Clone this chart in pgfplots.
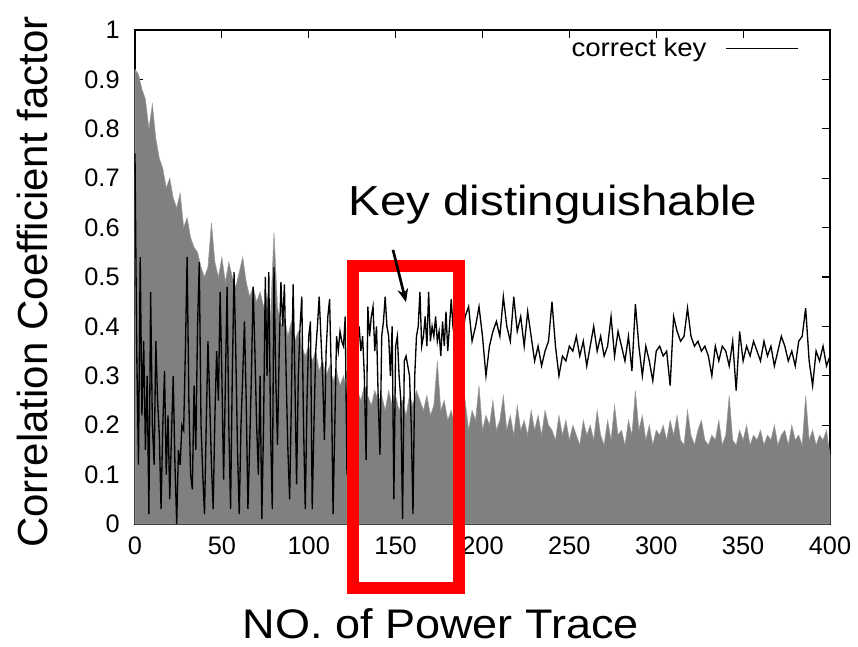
\documentclass[border=0pt]{standalone}
\usepackage{pgfplots}
\pgfplotsset{compat=1.18}
\usepackage{fontspec}
\setmainfont{Liberation Sans}
\newfontfamily\widefont[FakeStretch=1.09]{Liberation Sans}
\newfontfamily\widerfont[FakeStretch=1.13]{Liberation Sans}
\usetikzlibrary{arrows.meta}
\definecolor{area}{RGB}{128,128,128}
\definecolor{areaedge}{RGB}{155,155,155}
\begin{document}
\begin{tikzpicture}
\useasboundingbox (-101.25pt,-92.25pt) rectangle (542.25pt,393pt);
\begin{axis}[
  at={(0,0)}, anchor=south west,
  scale only axis, width=521.25pt, height=370.5pt,
  xmin=0, xmax=400, ymin=0, ymax=1,
  xtick={0,50,100,150,200,250,300,350,400},
  ytick={0,0.1,0.2,0.3,0.4,0.5,0.6,0.7,0.8,0.9,1},
  yticklabels={0,0.1,0.2,0.3,0.4,0.5,0.6,0.7,0.8,0.9,1},
  tick align=inside, major tick length=6pt,
  tick style={black, line width=0.8pt},
  axis line style={line width=1pt},
  /pgf/number format/assume math mode=true,
  tick label style={font=\fontsize{19}{22}\selectfont},
  xticklabel style={yshift=-6pt},
  yticklabel style={xshift=-8pt},
  clip=false,
  xlabel={NO. of Power Trace},
  ylabel={Correlation Coefficient factor},
  ylabel style={font=\fontsize{31.5}{36}\selectfont, at={(axis description cs:-0.148,0.49)}, anchor=center},
  xlabel style={font=\widefont\fontsize{31}{34}\selectfont, inner sep=0pt, at={(axis description cs:0.44,-0.202)}, anchor=center},
  legend style={at={(0.955,0.99)}, anchor=north east, draw=none, fill=none,
    font=\widefont\fontsize{19}{22}\selectfont, inner sep=0pt},
  legend plot pos=right,
  legend image code/.code={\path (0pt,0pt); \draw[black, line width=0.8pt] (12pt,0pt) -- (66pt,0pt);},
]
\addplot[fill=area, draw=areaedge, line width=0.4pt, forget plot] coordinates {
(0,0.92)(2,0.91)(4,0.88)(6,0.86)(8,0.80)(10,0.85)(12,0.78)(14,0.74)(16,0.72)(18,0.68)
(20,0.70)(22,0.66)(24,0.64)(26,0.67)(28,0.60)(30,0.62)(32,0.58)(34,0.56)(36,0.55)(38,0.52)
(40,0.50)(42,0.52)(44,0.61)(46,0.53)(48,0.50)(50,0.54)(52,0.49)(54,0.53)(56,0.50)(58,0.48)
(60,0.51)(62,0.54)(64,0.49)(66,0.46)(68,0.48)(70,0.45)(72,0.47)(74,0.44)(76,0.46)(78,0.42)
(80,0.59)(82,0.44)(84,0.40)(86,0.42)(88,0.38)(90,0.41)(92,0.37)(94,0.39)(96,0.36)(98,0.34)
(100,0.36)(102,0.33)(104,0.35)(106,0.31)(108,0.33)(110,0.30)(112,0.32)(114,0.29)(116,0.31)(118,0.28)
(120,0.30)(122,0.27)(124,0.29)(126,0.26)(128,0.27)(130,0.25)(132,0.28)(134,0.26)(136,0.24)(138,0.27)
(140,0.25)(142,0.26)(144,0.23)(146,0.27)(148,0.24)(150,0.26)(152,0.23)(154,0.25)(156,0.22)(158,0.26)
(160,0.24)(162,0.27)(164,0.25)(166,0.23)(168,0.26)(170,0.22)(172,0.24)(174,0.33)(176,0.23)(178,0.25)
(180,0.21)(182,0.23)(184,0.20)(186,0.26)(188,0.20)(190,0.25)(192,0.19)(194,0.23)(196,0.21)(198,0.28)
(200,0.19)(202,0.22)(204,0.20)(206,0.25)(208,0.19)(210,0.21)(212,0.26)(214,0.19)(216,0.22)(218,0.18)
(220,0.24)(222,0.19)(224,0.21)(226,0.18)(228,0.23)(230,0.19)(232,0.22)(234,0.18)(236,0.23)(238,0.20)
(240,0.19)(242,0.17)(244,0.22)(246,0.18)(248,0.21)(250,0.17)(252,0.20)(254,0.18)(256,0.16)(258,0.21)
(260,0.18)(262,0.20)(264,0.17)(266,0.23)(268,0.18)(270,0.16)(272,0.21)(274,0.17)(276,0.24)(278,0.18)
(280,0.19)(282,0.16)(284,0.21)(286,0.18)(288,0.27)(290,0.19)(292,0.22)(294,0.17)(296,0.20)(298,0.16)
(300,0.19)(302,0.18)(304,0.20)(306,0.17)(308,0.21)(310,0.18)(312,0.22)(314,0.17)(316,0.16)(318,0.23)
(320,0.18)(322,0.16)(324,0.19)(326,0.21)(328,0.17)(330,0.16)(332,0.18)(334,0.17)(336,0.21)(338,0.16)
(340,0.18)(342,0.26)(344,0.17)(346,0.16)(348,0.19)(350,0.17)(352,0.20)(354,0.16)(356,0.18)(358,0.17)
(360,0.19)(362,0.16)(364,0.18)(366,0.17)(368,0.20)(370,0.16)(372,0.18)(374,0.19)(376,0.16)(378,0.20)
(380,0.17)(382,0.18)(384,0.16)(386,0.26)(388,0.17)(390,0.19)(392,0.16)(394,0.18)(396,0.17)(398,0.19)
(400,0.14)} \closedcycle;
\addplot[black, line width=1pt] coordinates {
(0,0.75)(1,0.35)(2,0.12)(3,0.54)(4,0.22)(5,0.37)(6,0.15)(7,0.30)(8,0.02)(9,0.47)
(10,0.20)(11,0.12)(12,0.37)(13,0.25)(14,0.18)(15,0.03)(16,0.20)(17,0.31)(18,0.10)(19,0.22)
(20,0.05)(21,0.18)(22,0.30)(23,0.12)(24,0.00)(25,0.15)(26,0.12)(27,0.20)(28,0.19)(29,0.35)
(30,0.54)(31,0.25)(32,0.10)(33,0.07)(34,0.28)(35,0.15)(36,0.40)(37,0.53)(38,0.20)(39,0.10)
(40,0.02)(41,0.20)(42,0.37)(43,0.25)(44,0.12)(45,0.03)(46,0.22)(47,0.35)(48,0.25)(49,0.47)
(50,0.30)(51,0.09)(52,0.28)(53,0.48)(54,0.20)(55,0.03)(56,0.30)(57,0.51)(58,0.35)(59,0.15)
(60,0.02)(61,0.20)(62,0.30)(63,0.41)(64,0.25)(65,0.03)(66,0.16)(67,0.30)(68,0.48)(69,0.35)
(70,0.20)(71,0.10)(72,0.30)(73,0.01)(74,0.20)(75,0.50)(76,0.30)(77,0.51)(78,0.20)(79,0.03)
(80,0.52)(81,0.30)(82,0.16)(83,0.35)(84,0.49)(85,0.40)(86,0.485)(87,0.30)(88,0.15)(89,0.05)
(90,0.25)(91,0.485)(92,0.30)(93,0.08)(94,0.30)(95,0.40)(96,0.46)(97,0.20)(98,0.03)(99,0.25)
(100,0.38)(101,0.41)(102,0.03)(103,0.20)(104,0.35)(105,0.40)(106,0.46)(107,0.38)(108,0.30)(109,0.17)
(110,0.35)(111,0.42)(112,0.455)(113,0.30)(114,0.02)(115,0.20)(116,0.38)(117,0.35)(118,0.39)(119,0.37)
(120,0.36)(121,0.42)(122,0.10)(123,0.36)(124,0.38)(125,0.37)(126,0.38)(127,0.20)(128,0.36)(129,0.40)
(130,0.35)(131,0.38)(132,0.30)(133,0.13)(134,0.44)(135,0.38)(136,0.42)(137,0.44)(138,0.35)(139,0.40)
(140,0.25)(141,0.14)(142,0.38)(143,0.41)(144,0.46)(145,0.40)(146,0.38)(147,0.30)(148,0.40)(149,0.05)
(150,0.36)(151,0.38)(152,0.30)(153,0.25)(154,0.01)(155,0.33)(156,0.34)(157,0.32)(158,0.30)(159,0.20)
(160,0.02)(161,0.30)(162,0.38)(163,0.40)(164,0.47)(165,0.36)(166,0.38)(167,0.42)(168,0.36)(169,0.47)
(170,0.37)(171,0.40)(172,0.38)(173,0.42)(174,0.37)(175,0.39)(176,0.34)(177,0.41)(178,0.36)(179,0.43)
(180,0.35)(181,0.40)(182,0.455)(183,0.40)(184,0.37)(185,0.36)(186,0.39)(188,0.36)(190,0.42)(192,0.44)
(194,0.37)(196,0.40)(198,0.44)(200,0.38)(202,0.30)(204,0.36)(206,0.39)(208,0.41)(210,0.38)(212,0.46)
(214,0.40)(216,0.37)(218,0.46)(220,0.39)(222,0.42)(224,0.36)(226,0.43)(228,0.38)(230,0.33)(232,0.36)
(234,0.32)(236,0.35)(238,0.37)(240,0.45)(242,0.36)(244,0.30)(246,0.34)(248,0.33)(250,0.36)(252,0.35)
(254,0.38)(256,0.34)(258,0.37)(260,0.32)(262,0.36)(264,0.40)(266,0.35)(268,0.38)(270,0.34)(272,0.36)
(274,0.42)(276,0.34)(278,0.39)(280,0.36)(282,0.33)(284,0.38)(286,0.31)(288,0.445)(290,0.36)(292,0.30)
(294,0.36)(296,0.33)(298,0.29)(300,0.35)(302,0.36)(304,0.34)(306,0.35)(308,0.28)(310,0.42)(312,0.39)
(314,0.37)(316,0.38)(318,0.437)(320,0.38)(322,0.36)(324,0.37)(326,0.35)(328,0.36)(330,0.34)(332,0.30)
(334,0.36)(336,0.33)(338,0.36)(340,0.35)(342,0.32)(344,0.37)(346,0.27)(348,0.39)(350,0.33)(352,0.36)
(354,0.34)(356,0.37)(358,0.35)(360,0.33)(362,0.37)(364,0.34)(366,0.36)(368,0.32)(370,0.35)(372,0.38)
(374,0.36)(376,0.33)(378,0.35)(380,0.32)(382,0.37)(384,0.38)(386,0.437)(388,0.33)(390,0.28)(392,0.35)
(394,0.33)(396,0.36)(398,0.32)(400,0.34)};
\addlegendentry{correct key}
\draw[red, line width=9pt] (axis cs:125.5,-0.13) rectangle (axis cs:186.5,0.522);
\draw[black, line width=2pt, -{Stealth[length=10pt,width=8pt]}] (axis cs:148.5,0.555) -- (axis cs:156,0.449);
\node[font=\widerfont\fontsize{31.5}{36}\selectfont, anchor=center] at (axis cs:240.6,0.646) {Key distinguishable};
\end{axis}
\end{tikzpicture}
\end{document}
